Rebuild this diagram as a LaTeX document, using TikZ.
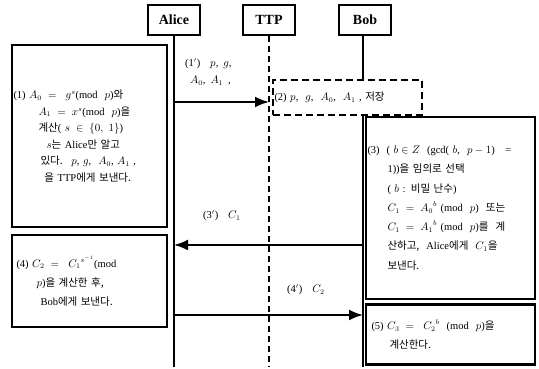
\documentclass[tikz,border=0pt]{standalone}
\usepackage{fontspec}
\setmainfont{Liberation Serif}
\newfontfamily\kr{Noto Sans CJK KR}
\newcommand{\ko}[1]{{\kr #1}}
\newcommand{\boxfont}[2]{\fontsize{#1}{#2}\selectfont\spaceskip 5pt\relax}
\usetikzlibrary{arrows.meta}

\begin{document}
\begin{tikzpicture}[x=1pt, y=-1pt,
    actor/.style={draw, line width=2.4pt, minimum width=52pt, minimum height=30pt, inner sep=0pt, font=\fontsize{14}{16}\selectfont\bfseries},
    stepbox/.style={draw, line width=2.4pt, align=left, inner xsep=1.5pt, inner ysep=0pt, font={\boxfont{10.5}{16.5}}},
    store/.style={stepbox, line width=2pt, dash pattern=on 7pt off 4pt, fill=white},
    life/.style={line width=2pt},
    msg/.style={line width=2pt, -{Latex[length=14pt,width=11pt]}},
    lbl/.style={anchor=west, inner sep=0pt, align=left, font={\boxfont{10.5}{17}}}]
    \useasboundingbox (0,0) rectangle (539,369);

    % draw actors
    \foreach \who/\x in {Alice/174, TTP/269, Bob/365}
      \node[actor] (\who) at (\x,20) {\who};

    % draw life lines
    \coordinate (aliceEnd) at (174,367);
    \coordinate (ttpEnd) at (269,367);
    \coordinate (bobEnd) at (363,367);
    \draw[life] (Alice.south) -- (aliceEnd);
    \draw[life, dash pattern=on 6pt off 4pt] (TTP.south) -- (ttpEnd);
    \draw[life] (Bob.south -| bobEnd) -- (bobEnd);

    % draw steps
    \node[stepbox, text width=152pt, minimum height=182pt] (step1) at (89.5,136) {%
      (1) $A_0 \;=\;\; g^s$(mod \ $p$)\ko{와}\\
      \hspace*{25pt}$A_1 \;=\; x^s$(mod \ $p$)\ko{을}\\
      \hspace*{25pt}\ko{계산}( $s \;\in\; \{0,\ 1\}$)\\
      \hspace*{33pt}$s$\ko{는} Alice\ko{만} \ko{알고}\\
      \hspace*{27pt}\ko{있다.} \ $p$, $g$, \ $A_0$, $A_1$ ,\\
      \hspace*{31pt}\ko{을} TTP\ko{에게} \ko{보낸다.}};
    \node[store, text width=146pt, minimum height=35pt] (step2) at (347.5,97.5) {%
      (2) $p$, \ $g$, \ $A_0$, \ $A_1$ , \ko{저장}};
    \node[stepbox, text width=166pt, minimum height=182pt, font={\boxfont{10.5}{19.3}}] (step3) at (450.5,208) {%
      (3) \ ( $b \in Z$ \ (gcd( $b$, \ $p-1$) \ \ =\\
      \hspace*{20pt}1))\ko{을} \ko{임의로} \ko{선택}\\
      \hspace*{20pt}( $b$ : \ko{비밀} \ko{난수})\\
      \hspace*{20pt}$C_1 \;=\; {A_0}^{b}$ (mod \ $p$) \ \ko{또는}\\
      \hspace*{20pt}$C_1 \;=\; {A_1}^{b}$ (mod \ $p$)\ko{를} \ \ko{계}\\
      \hspace*{20pt}\ko{산하고,} \ Alice\ko{에게} \ $C_1$\ko{을}\\
      \hspace*{20pt}\ko{보낸다.}};
    \node[stepbox, text width=152pt, minimum height=92pt, font={\boxfont{10.5}{19}}] (step4) at (89.5,281) {%
      \hspace*{3pt}(4) $C_2 \;=\;\; {C_1}^{s^{-1}}$(mod\\
      \hspace*{23pt}$p$)\ko{을} \ko{계산한} \ko{후,}\\
      \hspace*{27pt}Bob\ko{에게} \ko{보낸다.}};
    \node[stepbox, text width=166pt, minimum height=60pt, font={\boxfont{10.5}{19}}] (step5) at (450.5,334.5) {%
      \hspace*{4pt}(5) $C_3 \;=\;\; {C_2}^{b}$ \ (mod \ $p$)\ko{을}\\
      \hspace*{22pt}\ko{계산한다.}};

    % draw messages
    \coordinate (a1) at (174,102);
    \coordinate (t1) at (269,102);
    \coordinate (b3) at (363,245);
    \coordinate (a3) at (174,245);
    \coordinate (a4) at (174,315);
    \coordinate (b4) at (363,315);
    \draw[msg] (a1) -- (t1);
    \draw[msg] (b3) -- (a3);
    \draw[msg] (a4) -- (b4);

    % draw message labels
    \node[lbl] (m1) at (185,72) {(1$'$) \ $p$, $g$,\\ \hspace*{5pt}$A_0$, $A_1$ ,};
    \node[lbl] (m3) at (203,216) {(3$'$) \ $C_1$};
    \node[lbl] (m4) at (287,290) {(4$'$) \ $C_2$};
  \end{tikzpicture}
\end{document}
